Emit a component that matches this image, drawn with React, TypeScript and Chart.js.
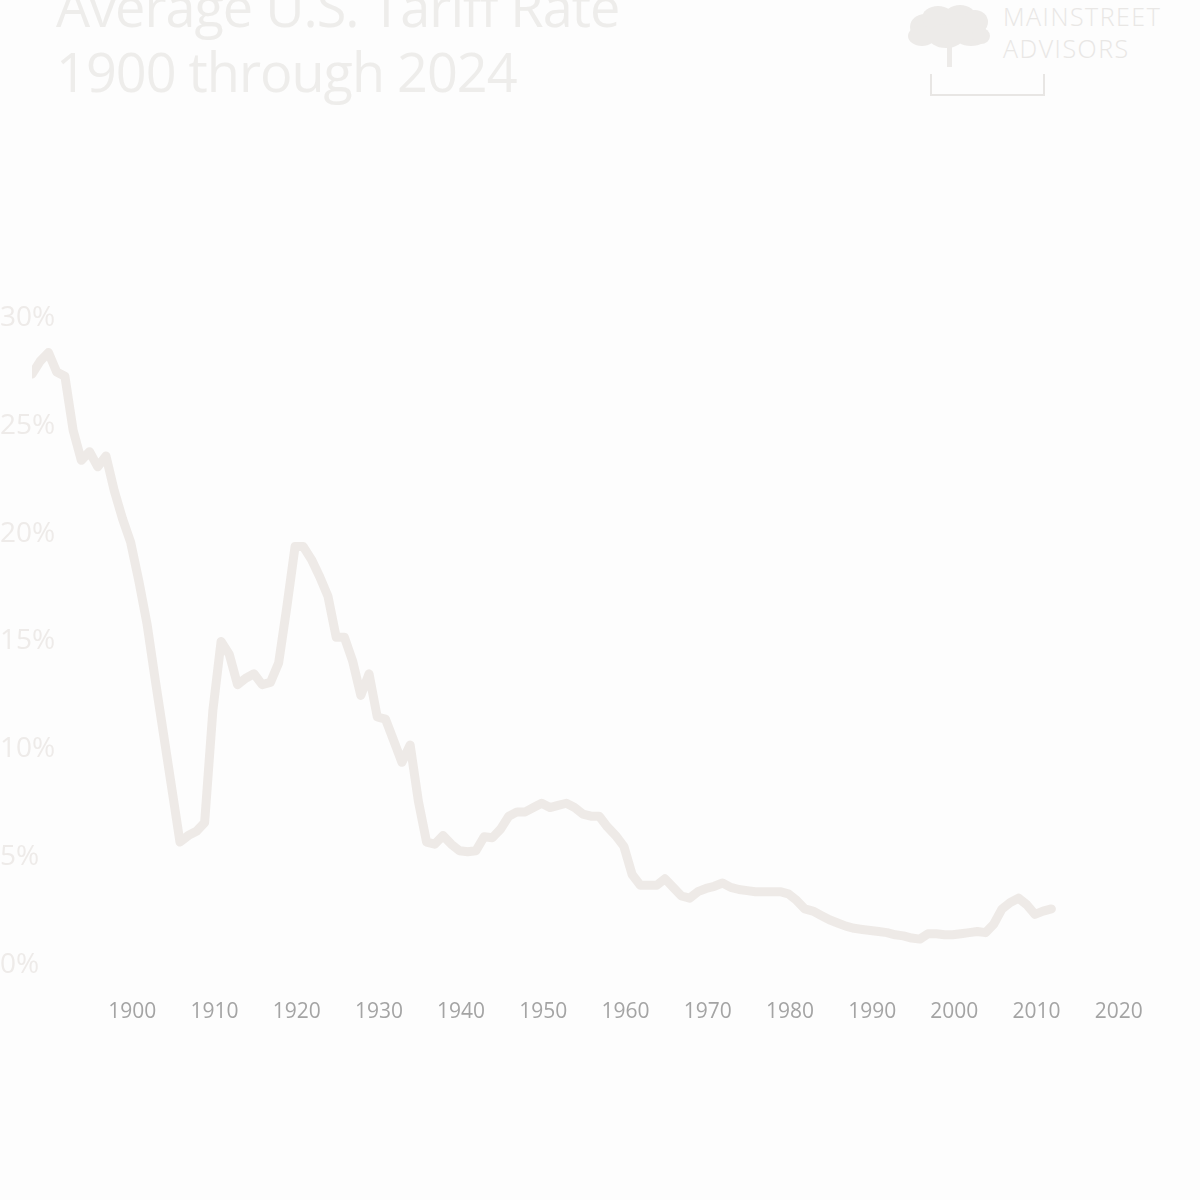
import React, { useEffect, useRef } from "react";
import { Chart, registerables } from "chart.js";

Chart.register(...registerables);

const TITLE_LINES = ["Average U.S. Tariff Rate", "1900 through 2024"];
const LOGO_LINES = ["MAINSTREET", "ADVISORS"];

const YEARS = [
  1900, 1901, 1902, 1903, 1904, 1905, 1906, 1907, 1908, 1909,
  1910, 1911, 1912, 1913, 1914, 1915, 1916, 1917, 1918, 1919,
  1920, 1921, 1922, 1923, 1924, 1925, 1926, 1927, 1928, 1929,
  1930, 1931, 1932, 1933, 1934, 1935, 1936, 1937, 1938, 1939,
  1940, 1941, 1942, 1943, 1944, 1945, 1946, 1947, 1948, 1949,
  1950, 1951, 1952, 1953, 1954, 1955, 1956, 1957, 1958, 1959,
  1960, 1961, 1962, 1963, 1964, 1965, 1966, 1967, 1968, 1969,
  1970, 1971, 1972, 1973, 1974, 1975, 1976, 1977, 1978, 1979,
  1980, 1981, 1982, 1983, 1984, 1985, 1986, 1987, 1988, 1989,
  1990, 1991, 1992, 1993, 1994, 1995, 1996, 1997, 1998, 1999,
  2000, 2001, 2002, 2003, 2004, 2005, 2006, 2007, 2008, 2009,
  2010, 2011, 2012, 2013, 2014, 2015, 2016, 2017, 2018, 2019,
  2020, 2021, 2022, 2023, 2024,
];

const TARIFF_RATE = [
  27.4, 28.0, 28.4, 27.5, 27.3, 24.8, 23.4, 23.8, 23.1, 23.6,
  22.0, 20.7, 19.6, 17.8, 15.8, 13.2, 10.7, 8.2, 5.7, 6.0,
  6.2, 6.6, 11.8, 15.0, 14.4, 13.0, 13.3, 13.5, 13.0, 13.1,
  14.0, 16.6, 19.4, 19.4, 18.8, 18.0, 17.1, 15.2, 15.2, 14.1,
  12.5, 13.5, 11.5, 11.4, 10.4, 9.4, 10.2, 7.6, 5.7, 5.6,
  6.0, 5.6, 5.3, 5.25, 5.3, 5.95, 5.9, 6.3, 6.9, 7.1,
  7.1, 7.3, 7.5, 7.3, 7.4, 7.5, 7.3, 7.0, 6.9, 6.9,
  6.4, 6.0, 5.5, 4.2, 3.7, 3.7, 3.7, 4.0, 3.6, 3.2,
  3.1, 3.4, 3.55, 3.65, 3.8, 3.6, 3.5, 3.45, 3.4, 3.4,
  3.4, 3.4, 3.3, 3.0, 2.6, 2.5, 2.3, 2.1, 1.95, 1.8,
  1.7, 1.65, 1.6, 1.55, 1.5, 1.4, 1.35, 1.25, 1.2, 1.45,
  1.45, 1.4, 1.4, 1.45, 1.5, 1.55, 1.5, 1.9, 2.6, 2.9,
  3.1, 2.8, 2.35, 2.5, 2.6,
];

const X_TICK_LABELS = [1900, 1910, 1920, 1930, 1940, 1950, 1960, 1970, 1980, 1990, 2000, 2010, 2020];
const Y_MIN = 0;
const Y_MAX = 30;
const Y_STEP = 5;

// data axis range and the (shifted) label axis range
const X_MIN = 1900;
const X_MAX = 2036;
const LABEL_SHIFT = 12.2;

const LINE_COLOR = "rgb(238,234,231)";
const X_LABEL_COLOR = "#a4a4a4";
const Y_LABEL_COLOR = "#eeebe9";
const FAINT_TEXT = "#eeedeb";
const LOGO_COLOR = "#edebe9";

// tree canopy lobes for the logo: [left, top, width, height]
const TREE_LOBES = [
  [910, 14, 30, 26],
  [922, 6, 32, 24],
  [944, 5, 32, 24],
  [962, 10, 26, 24],
  [908, 26, 28, 20],
  [928, 24, 36, 24],
  [954, 24, 34, 22],
  [972, 28, 18, 16],
];

export default function App() {
  const canvasRef = useRef<HTMLCanvasElement | null>(null);

  useEffect(() => {
    const canvas = canvasRef.current;
    if (!canvas) return;
    const chart = new Chart(canvas, {
      type: "line",
      data: {
        datasets: [
          {
            data: YEARS.map((yr, i) => ({ x: yr, y: TARIFF_RATE[i] })),
            borderColor: LINE_COLOR,
            backgroundColor: LINE_COLOR,
            borderWidth: 9,
            pointRadius: 0,
            pointHoverRadius: 0,
            tension: 0,
            fill: false,
            borderJoinStyle: "round",
            borderCapStyle: "round",
            xAxisID: "x",
            yAxisID: "y",
          },
        ],
      },
      options: {
        animation: false,
        responsive: false,
        maintainAspectRatio: false,
        layout: { padding: { top: 318, left: 0, right: 50, bottom: 0 } },
        plugins: {
          legend: { display: false },
          tooltip: { enabled: false },
          title: { display: false },
        },
        scales: {
          x: {
            type: "linear",
            min: X_MIN,
            max: X_MAX,
            display: false,
          },
          xl: {
            type: "linear",
            position: "bottom",
            min: X_MIN - LABEL_SHIFT,
            max: X_MAX - LABEL_SHIFT,
            grid: { display: false, drawTicks: false },
            border: { display: false },
            afterBuildTicks: (s: any) => {
              s.ticks = X_TICK_LABELS.map((v) => ({ value: v }));
            },
            afterFit: (s: any) => {
              s.height = 235;
            },
            ticks: {
              autoSkip: false,
              maxRotation: 0,
              minRotation: 0,
              padding: 34,
              color: X_LABEL_COLOR,
              font: { family: "'Open Sans', sans-serif", size: 21 },
              callback: (v: any) => String(v),
            },
          },
          y: {
            type: "linear",
            position: "left",
            min: Y_MIN,
            max: Y_MAX,
            grid: { display: false, drawTicks: false },
            border: { display: false },
            afterFit: (s: any) => {
              s.width = 32;
            },
            ticks: {
              stepSize: Y_STEP,
              mirror: true,
              crossAlign: "near",
              padding: -32,
              color: Y_LABEL_COLOR,
              font: { family: "'Open Sans', sans-serif", size: 28 },
              callback: (v: any) => v + "%",
            },
          },
        },
      },
    } as any);
    return () => chart.destroy();
  }, []);

  const titleStyle: React.CSSProperties = {
    position: "absolute",
    left: 56,
    fontSize: 54,
    lineHeight: 1,
    letterSpacing: -1,
    color: FAINT_TEXT,
    whiteSpace: "nowrap",
  };
  const logoTextStyle: React.CSSProperties = {
    position: "absolute",
    left: 1003,
    fontSize: 25,
    lineHeight: 1,
    letterSpacing: 1.5,
    fontWeight: 300,
    color: "#e9e7e5",
    whiteSpace: "nowrap",
  };

  return (
    <div
      style={{
        position: "absolute",
        left: 0,
        top: 0,
        width: 1200,
        height: 1200,
        background: "#fdfdfd",
        overflow: "hidden",
        fontFamily: "'Open Sans', sans-serif",
      }}
    >
      <div style={{ ...titleStyle, top: -21 }}>{TITLE_LINES[0]}</div>
      <div style={{ ...titleStyle, top: 44 }}>{TITLE_LINES[1]}</div>

      {TREE_LOBES.map(([l, t, w, h], i) => (
        <div
          key={i}
          style={{ position: "absolute", left: l, top: t, width: w, height: h, borderRadius: "50%", background: LOGO_COLOR }}
        />
      ))}
      <div style={{ position: "absolute", left: 947, top: 40, width: 5, height: 27, background: LOGO_COLOR }} />
      <div
        style={{
          position: "absolute",
          left: 930,
          top: 74,
          width: 111,
          height: 20,
          borderLeft: "2px solid #e8e6e4",
          borderRight: "2px solid #e8e6e4",
          borderBottom: "2px solid #e8e6e4",
        }}
      />
      <div style={{ ...logoTextStyle, top: 4 }}>{LOGO_LINES[0]}</div>
      <div style={{ ...logoTextStyle, top: 36 }}>{LOGO_LINES[1]}</div>

      <canvas
        ref={canvasRef}
        width={1200}
        height={1200}
        style={{ position: "absolute", left: 0, top: 0, width: 1200, height: 1200 }}
      />
    </div>
  );
}
